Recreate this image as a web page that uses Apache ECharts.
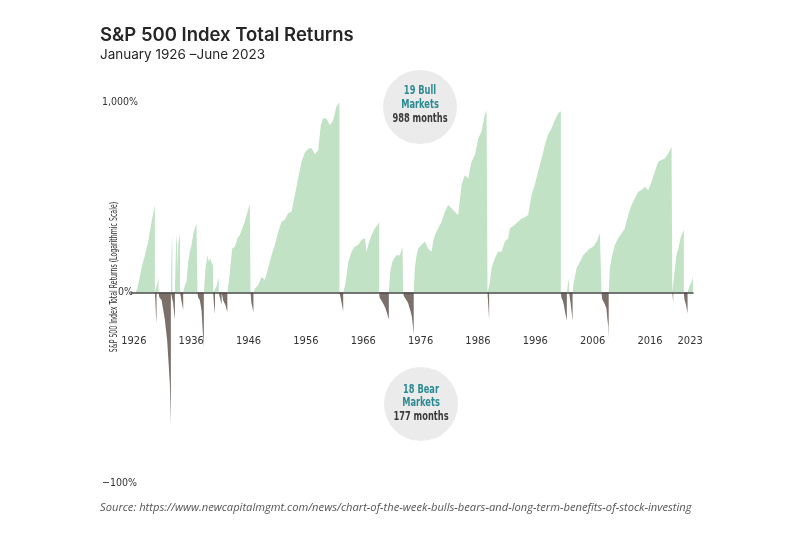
<!DOCTYPE html>
<html>
<head>
<meta charset="utf-8">
<script src="https://cdn.jsdelivr.net/npm/echarts@6/dist/echarts.min.js"></script>
<style>
  html, body { margin: 0; padding: 0; background: #fff; }
  #main { width: 800px; height: 533px; }
</style>
</head>
<body>
<div id="main"></div>
<script>
// 数据部分：每段牛市/熊市的累计总回报 [年份, %]
var yearTicks = [1926, 1936, 1946, 1956, 1966, 1976, 1986, 1996, 2006, 2016, 2023];
var yTopLabel = '1,000%';
var yZeroLabel = '0%';
var yBottomLabel = '\u2212100%';

var bullMarkets = [
  [[1926.3,0],[1926.6,5],[1927.34,36],[1927.92,60],[1928.5,90],[1929.08,144],[1929.43,176],[1929.66,201]],
  [[1929.95,0],[1930.1,12],[1930.3,20]],
  [[1932.45,0],[1932.55,60],[1932.7,110]],
  [[1933.15,0],[1933.35,80],[1933.5,106],[1933.62,30],[1933.75,85],[1934.05,111]],
  [[1934.6,0],[1934.89,10],[1935.18,14],[1935.47,47],[1935.76,67],[1936.05,82],[1936.34,106],[1936.63,124],[1936.92,139],[1937.1,145]],
  [[1938.2,0],[1938.5,36],[1938.85,60],[1939.08,47],[1939.3,54],[1939.55,57],[1939.72,41],[1939.83,47]],
  [[1940.15,0],[1940.4,8],[1940.6,15],[1940.8,20]],
  [[1941.3,0],[1941.38,6]],
  [[1942.3,0],[1942.56,14],[1942.91,47],[1943.14,74],[1943.6,78],[1944.08,98],[1944.48,106],[1944.89,124],[1945.35,144],[1945.82,176],[1946.22,207],[1946.34,213]],
  [[1946.85,0],[1947.1,5],[1947.68,10],[1948.26,22],[1948.84,17],[1949.42,36],[1950.0,60],[1950.58,82],[1951.17,115],[1951.75,144],[1952.33,150],[1952.9,171],[1953.5,176],[1954.07,241],[1954.65,321],[1955.24,419],[1955.8,480],[1956.4,510],[1957.0,516],[1957.56,470],[1958.14,500],[1958.6,720],[1959.0,800],[1959.6,790],[1960.2,722],[1960.75,773],[1961.3,934],[1961.85,995]],
  [[1962.5,0],[1962.85,10],[1963.4,47],[1963.96,67],[1964.5,78],[1965.1,82],[1965.7,94],[1966.0,90],[1966.3,98],[1966.57,67],[1966.86,82],[1967.45,106],[1968.0,124],[1968.5,134],[1968.78,144]],
  [[1970.46,0],[1970.7,30],[1971.05,47],[1971.4,54],[1971.8,60],[1972.1,64],[1972.4,60],[1972.56,67],[1972.85,78],[1972.96,78]],
  [[1974.8,0],[1974.99,36],[1975.3,60],[1975.57,74],[1976.16,82],[1976.74,90],[1977.3,74],[1977.9,67],[1978.2,90],[1978.5,106],[1979.06,124],[1979.65,144],[1980.23,176],[1980.8,201],[1981.4,188],[1981.97,176],[1982.55,165],[1983.14,287],[1983.7,338],[1984.3,320],[1984.88,419],[1985.46,464],[1986.04,595],[1986.6,655],[1987.2,833],[1987.5,895],[1987.67,913]],
  [[1987.95,0],[1988.1,14],[1988.37,36],[1988.95,54],[1989.5,67],[1990.1,67],[1990.7,90],[1991.27,98],[1991.56,124],[1992.4,134],[1993.0,144],[1993.6,154],[1994.2,158],[1994.75,165],[1995.35,241],[1995.9,287],[1996.5,358],[1997.1,441],[1997.67,540],[1998.2,625],[1998.83,688],[1999.4,775],[1999.99,855],[2000.28,873],[2000.46,880]],
  [[2001.5,0],[2001.7,12],[2001.9,20]],
  [[2002.5,0],[2002.72,14],[2003.2,36],[2003.77,47],[2004.35,60],[2004.94,67],[2005.5,74],[2006.1,78],[2006.7,90],[2007.26,110],[2007.55,115]],
  [[2008.8,0],[2009.0,36],[2009.3,54],[2009.87,82],[2010.45,98],[2011.04,110],[2011.3,106],[2011.6,124],[2012.2,165],[2012.78,201],[2013.36,227],[2013.94,255],[2014.5,262],[2015.1,279],[2015.7,262],[2016.27,303],[2016.85,358],[2017.43,419],[2018.0,430],[2018.6,441],[2019.2,477],[2019.76,526],[2019.9,540]],
  [[2020.05,0],[2020.35,36],[2020.6,60],[2020.94,74],[2021.33,98],[2021.63,110],[2021.9,120]],
  [[2022.55,0],[2022.77,6],[2023.0,10],[2023.25,14],[2023.5,22]]
];

var bearMarkets = [
  [[1929.66,0],[1929.75,-10],[1929.85,-25],[1929.95,-32]],
  [[1930.3,0],[1930.45,-6],[1930.83,-9],[1931.4,-29],[1931.8,-45],[1932.1,-61],[1932.28,-69],[1932.45,-81]],
  [[1932.72,0],[1932.85,-12],[1933.0,-22],[1933.15,-29]],
  [[1934.05,0],[1934.3,-10],[1934.6,-20]],
  [[1937.1,0],[1937.2,-6],[1937.5,-9],[1937.8,-20],[1938.03,-40],[1938.2,-50]],
  [[1939.83,0],[1939.95,-12],[1940.15,-24]],
  [[1940.8,0],[1941.0,-6],[1941.3,-14]],
  [[1941.38,0],[1941.6,-10],[1942.0,-15],[1942.3,-22]],
  [[1946.34,0],[1946.5,-12],[1946.85,-22]],
  [[1961.85,0],[1962.1,-8],[1962.5,-21]],
  [[1968.78,0],[1968.85,-6],[1969.4,-12],[1969.8,-17],[1970.1,-22],[1970.46,-29]],
  [[1972.96,0],[1973.05,-4],[1973.36,-5],[1973.8,-12],[1974.2,-20],[1974.47,-26],[1974.65,-34],[1974.8,-41]],
  [[1987.67,0],[1987.8,-15],[1987.95,-29]],
  [[2000.46,0],[2000.55,-6],[2000.8,-10],[2001.0,-15],[2001.2,-22],[2001.5,-30]],
  [[2001.9,0],[2002.1,-10],[2002.3,-20],[2002.5,-30]],
  [[2007.55,0],[2007.65,-8],[2008.0,-12],[2008.4,-18],[2008.6,-30],[2008.72,-34],[2008.8,-44]],
  [[2019.9,0],[2020.05,-12]],
  [[2021.9,0],[2022.0,-8],[2022.3,-15],[2022.55,-23]]
];

// 颜色、字体
var bullColor = '#c2e2c6';
var bearColor = '#7a6f69';
var teal = '#2b8a91';
var narrow = '"Liberation Sans Narrow", "DejaVu Sans Condensed", "Noto Sans", sans-serif';

// 对数刻度：log10(1 + r)
var LOG_MAX = Math.log10(11);
function toLog(pct) {
    return Math.log10(1 + pct / 100);
}
// 把各段拼成一条面积线，每段结束后回到 0
function buildSeries(markets) {
    var out = [];
    for (var i = 0; i < markets.length; i++) {
        var seg = markets[i];
        for (var j = 0; j < seg.length; j++) {
            out.push([seg[j][0], toLog(seg[j][1])]);
        }
        out.push([seg[seg.length - 1][0], 0]);
    }
    return out;
}
// 圆圈里的文字
function circleText(x, y, text, color) {
    return {
        type: 'text', x: x, y: y, z: 11, scaleX: 0.8,
        style: { text: text, fontFamily: narrow, fontSize: 11.5, fontWeight: 600, fill: color, align: 'center', verticalAlign: 'middle' }
    };
}

var chart = echarts.init(document.getElementById('main'));
var option = {
    animation: false,
    backgroundColor: '#ffffff',
    title: [{
        text: 'S&P 500 Index Total Returns',
        left: 95,
        top: 21,
        textStyle: { fontFamily: 'Inter, "Open Sans", sans-serif', fontWeight: 600, fontSize: 18.5, color: '#262626' }
    }, {
        text: 'January 1926 \u2013June 2023',
        left: 95,
        top: 43,
        textStyle: { fontFamily: 'Inter, "Open Sans", sans-serif', fontWeight: 400, fontSize: 13.5, color: '#262626' }
    }],
    grid: { left: 131, right: 107, top: 102, bottom: 50 },
    xAxis: {
        type: 'value',
        min: 1925.5,
        max: 2023.5,
        position: 'bottom',
        offset: -190.5,
        z: 5,
        splitLine: { show: false },
        axisTick: { show: false },
        axisLine: { onZero: false, lineStyle: { color: '#4a4a4a', width: 1.5 } },
        axisLabel: {
            customValues: yearTicks,
            margin: 43,
            fontFamily: narrow,
            fontSize: 11,
            color: '#333',
            formatter: function (v) { return String(Math.round(v)); }
        }
    },
    yAxis: {
        type: 'value',
        min: -LOG_MAX,
        max: LOG_MAX,
        interval: LOG_MAX,
        splitLine: { show: false },
        axisTick: { show: false },
        axisLine: { show: false },
        axisLabel: {
            align: 'left',
            margin: 29,
            fontFamily: narrow,
            fontSize: 10.5,
            color: '#333',
            formatter: function (v) {
                if (v > 0.5) return yTopLabel;
                if (v < -0.5) return yBottomLabel;
                return '{z|' + yZeroLabel + '}';
            },
            rich: {
                z: { fontFamily: narrow, fontSize: 10.5, color: '#333', padding: [0, 0, 0, 16] }
            }
        }
    },
    series: [{
        name: 'Bull',
        type: 'line',
        data: buildSeries(bullMarkets),
        showSymbol: false,
        symbol: 'none',
        lineStyle: { width: 0 },
        areaStyle: { color: bullColor, opacity: 1 },
        z: 2
    }, {
        name: 'Bear',
        type: 'line',
        data: buildSeries(bearMarkets),
        showSymbol: false,
        symbol: 'none',
        lineStyle: { width: 0 },
        areaStyle: { color: bearColor, opacity: 1 },
        z: 2
    }],
    graphic: [{
        type: 'text',
        x: 114,
        y: 277,
        rotation: Math.PI / 2,
        scaleX: 0.66,
        style: {
            text: 'S&P 500 Index Total Returns (Logarithmic Scale)',
            fontFamily: narrow,
            fontSize: 10.5,
            fill: '#333',
            align: 'center',
            verticalAlign: 'middle'
        }
    }, {
        type: 'circle',
        shape: { cx: 420, cy: 107, r: 37 },
        style: { fill: '#ebebeb' },
        z: 10
    },
    circleText(420, 91, '19 Bull', teal),
    circleText(420, 105, 'Markets', teal),
    circleText(420, 119, '988 months', '#3a3a3a'),
    {
        type: 'circle',
        shape: { cx: 421, cy: 404, r: 37 },
        style: { fill: '#ebebeb' },
        z: 10
    },
    circleText(421, 390, '18 Bear', teal),
    circleText(421, 403, 'Markets', teal),
    circleText(421, 417, '177 months', '#3a3a3a'),
    {
        type: 'text',
        x: 100, y: 508,
        style: {
            text: 'Source: https://www.newcapitalmgmt.com/news/chart-of-the-week-bulls-bears-and-long-term-benefits-of-stock-investing',
            fontFamily: '"Open Sans", Lato, sans-serif',
            fontStyle: 'italic',
            fontSize: 11.2,
            fill: '#555',
            align: 'left',
            verticalAlign: 'middle'
        }
    }]
};
chart.setOption(option);
</script>
</body>
</html>
